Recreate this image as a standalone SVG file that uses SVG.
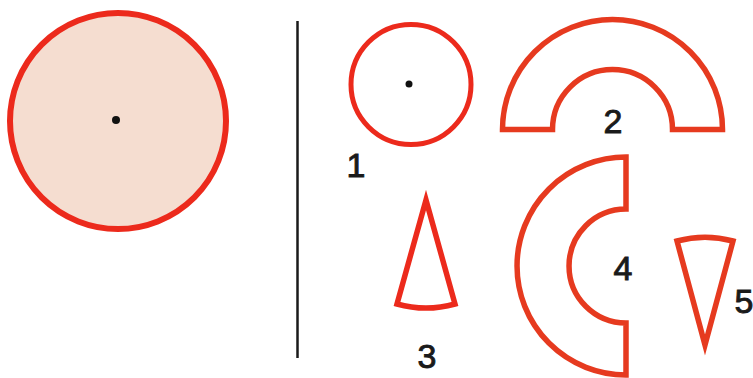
<svg xmlns="http://www.w3.org/2000/svg" width="753" height="378" viewBox="0 0 753 378">
<style>
.shape{fill:none;stroke:#e63a1f;stroke-width:5.5;stroke-linejoin:miter;stroke-miterlimit:12}
.lbl{font-family:"Liberation Sans",Arial,sans-serif;font-size:34px;fill:#1a1a1a;stroke:#1a1a1a;stroke-width:0.9;text-anchor:middle}
.dot{fill:#111}
</style>
<rect width="753" height="378" fill="#ffffff"/>
<g id="big-circle">
<circle cx="118" cy="121" r="108" fill="#f5ddd0" stroke="#ec2a1c" stroke-width="6"/>
<circle class="dot" cx="116" cy="120" r="4"/>
</g>
<g id="divider">
<line x1="297.5" y1="21" x2="297.5" y2="358" stroke="#1a1a1a" stroke-width="2.5"/>
</g>
<g id="shape1">
<circle cx="411" cy="84.5" r="60" fill="none" stroke="#ec2a1c" stroke-width="5"/>
<circle class="dot" cx="409" cy="84" r="3.5"/>
<text class="lbl" x="356" y="177">1</text>
</g>
<g id="shape2">
<path class="shape" d="M502.5,129.5 A110,110 0 0 1 722.5,129.5 L672.5,129.5 A60,60 0 0 0 552.5,129.5 Z"/>
<text class="lbl" x="613" y="133">2</text>
</g>
<g id="shape3">
<path class="shape" style="stroke:#ec2a1c" d="M426,200 L397,304 A108,108 0 0 0 455,304 Z"/>
<text class="lbl" x="427" y="368">3</text>
</g>
<g id="shape4">
<path class="shape" d="M626,157 A109,109 0 0 0 626,375 L626,323 A57,57 0 0 1 626,209 Z"/>
<text class="lbl" x="623" y="280">4</text>
</g>
<g id="shape5">
<path class="shape" d="M705,345 L677,241 A108,108 0 0 1 733,241 Z"/>
<text class="lbl" x="744" y="313">5</text>
</g>
</svg>
